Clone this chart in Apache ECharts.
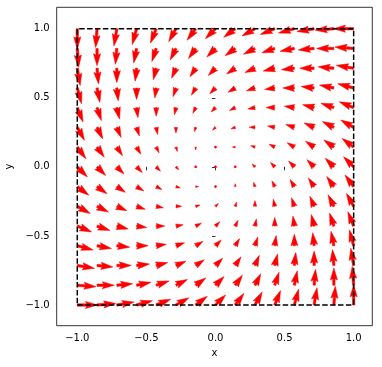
<!DOCTYPE html>
<html>
<head>
<meta charset="utf-8">
<script src="https://cdn.jsdelivr.net/npm/echarts@6/dist/echarts.min.js"></script>
<style>
  html, body { margin: 0; padding: 0; background: #fff; }
  #main { width: 382px; height: 367px; }
</style>
</head>
<body>
<div id="main"></div>
<script>
// grid positions (x along columns, y along rows, top row first)
var xs = [-1, -0.857, -0.714, -0.571, -0.429, -0.286, -0.143, 0, 0.143, 0.286, 0.429, 0.571, 0.714, 0.857, 1];
var ys = [1, 0.857, 0.714, 0.571, 0.429, 0.286, 0.143, 0, -0.143, -0.286, -0.429, -0.571, -0.714, -0.857, -1];

// vector components, one row per y value (arbitrary units, autoscaled like quiver)
var U = [
  [0, -1, -2, -3, -4, -5, -6, -7, -8, -9, -10, -11, -12, -13, -14],
  [1, 0, -1, -2, -3, -4, -5, -6, -7, -8, -9, -10, -11, -12, -13],
  [2, 1, 0, -1, -2, -3, -4, -5, -6, -7, -8, -9, -10, -11, -12],
  [3, 2, 1, 0, -1, -2, -3, -4, -5, -6, -7, -8, -9, -10, -11],
  [4, 3, 2, 1, 0, -1, -2, -3, -4, -5, -6, -7, -8, -9, -10],
  [5, 4, 3, 2, 1, 0, -1, -2, -3, -4, -5, -6, -7, -8, -9],
  [6, 5, 4, 3, 2, 1, 0, -1, -2, -3, -4, -5, -6, -7, -8],
  [7, 6, 5, 4, 3, 2, 1, 0, -1, -2, -3, -4, -5, -6, -7],
  [8, 7, 6, 5, 4, 3, 2, 1, 0, -1, -2, -3, -4, -5, -6],
  [9, 8, 7, 6, 5, 4, 3, 2, 1, 0, -1, -2, -3, -4, -5],
  [10, 9, 8, 7, 6, 5, 4, 3, 2, 1, 0, -1, -2, -3, -4],
  [11, 10, 9, 8, 7, 6, 5, 4, 3, 2, 1, 0, -1, -2, -3],
  [12, 11, 10, 9, 8, 7, 6, 5, 4, 3, 2, 1, 0, -1, -2],
  [13, 12, 11, 10, 9, 8, 7, 6, 5, 4, 3, 2, 1, 0, -1],
  [14, 13, 12, 11, 10, 9, 8, 7, 6, 5, 4, 3, 2, 1, 0]
];
var V = [
  [-14, -13, -12, -11, -10, -9, -8, -7, -6, -5, -4, -3, -2, -1, 0],
  [-13, -12, -11, -10, -9, -8, -7, -6, -5, -4, -3, -2, -1, 0, 1],
  [-12, -11, -10, -9, -8, -7, -6, -5, -4, -3, -2, -1, 0, 1, 2],
  [-11, -10, -9, -8, -7, -6, -5, -4, -3, -2, -1, 0, 1, 2, 3],
  [-10, -9, -8, -7, -6, -5, -4, -3, -2, -1, 0, 1, 2, 3, 4],
  [-9, -8, -7, -6, -5, -4, -3, -2, -1, 0, 1, 2, 3, 4, 5],
  [-8, -7, -6, -5, -4, -3, -2, -1, 0, 1, 2, 3, 4, 5, 6],
  [-7, -6, -5, -4, -3, -2, -1, 0, 1, 2, 3, 4, 5, 6, 7],
  [-6, -5, -4, -3, -2, -1, 0, 1, 2, 3, 4, 5, 6, 7, 8],
  [-5, -4, -3, -2, -1, 0, 1, 2, 3, 4, 5, 6, 7, 8, 9],
  [-4, -3, -2, -1, 0, 1, 2, 3, 4, 5, 6, 7, 8, 9, 10],
  [-3, -2, -1, 0, 1, 2, 3, 4, 5, 6, 7, 8, 9, 10, 11],
  [-2, -1, 0, 1, 2, 3, 4, 5, 6, 7, 8, 9, 10, 11, 12],
  [-1, 0, 1, 2, 3, 4, 5, 6, 7, 8, 9, 10, 11, 12, 13],
  [0, 1, 2, 3, 4, 5, 6, 7, 8, 9, 10, 11, 12, 13, 14]
];

// dashed square
var boxX = [-1, 1, 1, -1, -1];
var boxY = [-1, -1, 1, 1, -1];

var tickVals = [-1, -0.5, 0, 0.5, 1];

var gridLeft = 56.7, gridTop = 7.3, gridW = 315.6, gridH = 318.4;

var arrows = [];
var amean = 0;
for (var r = 0; r < ys.length; r++) {
  for (var c = 0; c < xs.length; c++) {
    arrows.push([xs[c], ys[r], U[r][c], V[r][c]]);
    amean += Math.hypot(U[r][c], V[r][c]);
  }
}
amean /= arrows.length;

// quiver-like autoscale: arrow length in px = a / scale * gridW
var N = arrows.length;
var scale = 1.8 * amean * Math.max(10, Math.sqrt(N));
var wpx = 2.4;                 // shaft width in px
var widthFrac = wpx / gridW;
var headW = 3, headL = 5, headAL = 4.5;

function arrowShape(L) {
  if (L < 1) {
    var hex = [];
    for (var k = 0; k < 6; k++) {
      hex.push([Math.cos(k * Math.PI / 3) * 0.5, Math.sin(k * Math.PI / 3) * 0.5]);
    }
    return hex;
  }
  var x, y;
  if (L < headL) {
    var s = L / headL;
    x = [0, headL - headAL, 0, headL].map(function (t) { return t * s; });
    y = [0.5 * s, 0.5 * s, 0.5 * headW * s, 0];
  } else {
    x = [0, L - headAL, L - headL, L];
    y = [0.5, 0.5, 0.5 * headW, 0];
  }
  return [[x[0], y[0]], [x[1], y[1]], [x[2], y[2]], [x[3], y[3]],
          [x[2], -y[2]], [x[1], -y[1]], [x[0], -y[0]]];
}

function renderArrow(params, api) {
  var p = api.coord([api.value(0), api.value(1)]);
  var u = api.value(2), v = api.value(3);
  var a = Math.hypot(u, v);
  var L = a / (scale * widthFrac);
  var ang = Math.atan2(-v, u);
  var cs = Math.cos(ang), sn = Math.sin(ang);
  var pts = arrowShape(L).map(function (q) {
    return [p[0] + (q[0] * cs - q[1] * sn) * wpx, p[1] + (q[0] * sn + q[1] * cs) * wpx];
  });
  return {
    type: 'polygon',
    shape: { points: pts },
    style: { fill: '#ff0000', stroke: '#ff0000', lineWidth: 0.5 }
  };
}

function fmt(v) {
  return (v < 0 ? '\u2212' : '') + Math.abs(v).toFixed(1);
}

var labelStyle = { color: '#000', fontFamily: 'DejaVu Sans', fontSize: 10 };

var chart = echarts.init(document.getElementById('main'));
chart.setOption({
  animation: false,
  backgroundColor: '#fff',
  grid: {
    left: gridLeft, top: gridTop, width: gridW, height: gridH,
    outerBoundsMode: 'none', containLabel: false,
    show: true, borderColor: '#000', borderWidth: 0.8, backgroundColor: 'transparent'
  },
  xAxis: {
    type: 'value', min: -1.149, max: 1.135,
    name: 'x', nameLocation: 'middle', nameGap: 23,
    nameTextStyle: labelStyle,
    axisLine: { show: false },
    axisTick: { show: true, inside: false, length: 3.5, customValues: tickVals, lineStyle: { color: '#000', width: 0.8 } },
    axisLabel: Object.assign({ margin: 7.5, customValues: tickVals, formatter: fmt }, labelStyle),
    splitLine: { show: false }
  },
  yAxis: {
    type: 'value', min: -1.150, max: 1.155,
    name: 'y', nameLocation: 'middle', nameGap: 37,
    nameTextStyle: labelStyle,
    axisLine: { show: false },
    axisTick: { show: true, inside: false, length: 3.5, customValues: tickVals, lineStyle: { color: '#000', width: 0.8 } },
    axisLabel: Object.assign({ margin: 7, customValues: tickVals, formatter: fmt }, labelStyle),
    splitLine: { show: false }
  },
  series: [
    {
      type: 'custom',
      renderItem: renderArrow,
      data: arrows,
      z: 1,
      clip: true
    },
    {
      type: 'line',
      data: boxX.map(function (x, i) { return [x, boxY[i]]; }),
      symbol: 'none',
      lineStyle: { color: '#000', width: 1.5, type: [5.5, 2.4] },
      z: 3
    }
  ]
});
</script>
</body>
</html>
